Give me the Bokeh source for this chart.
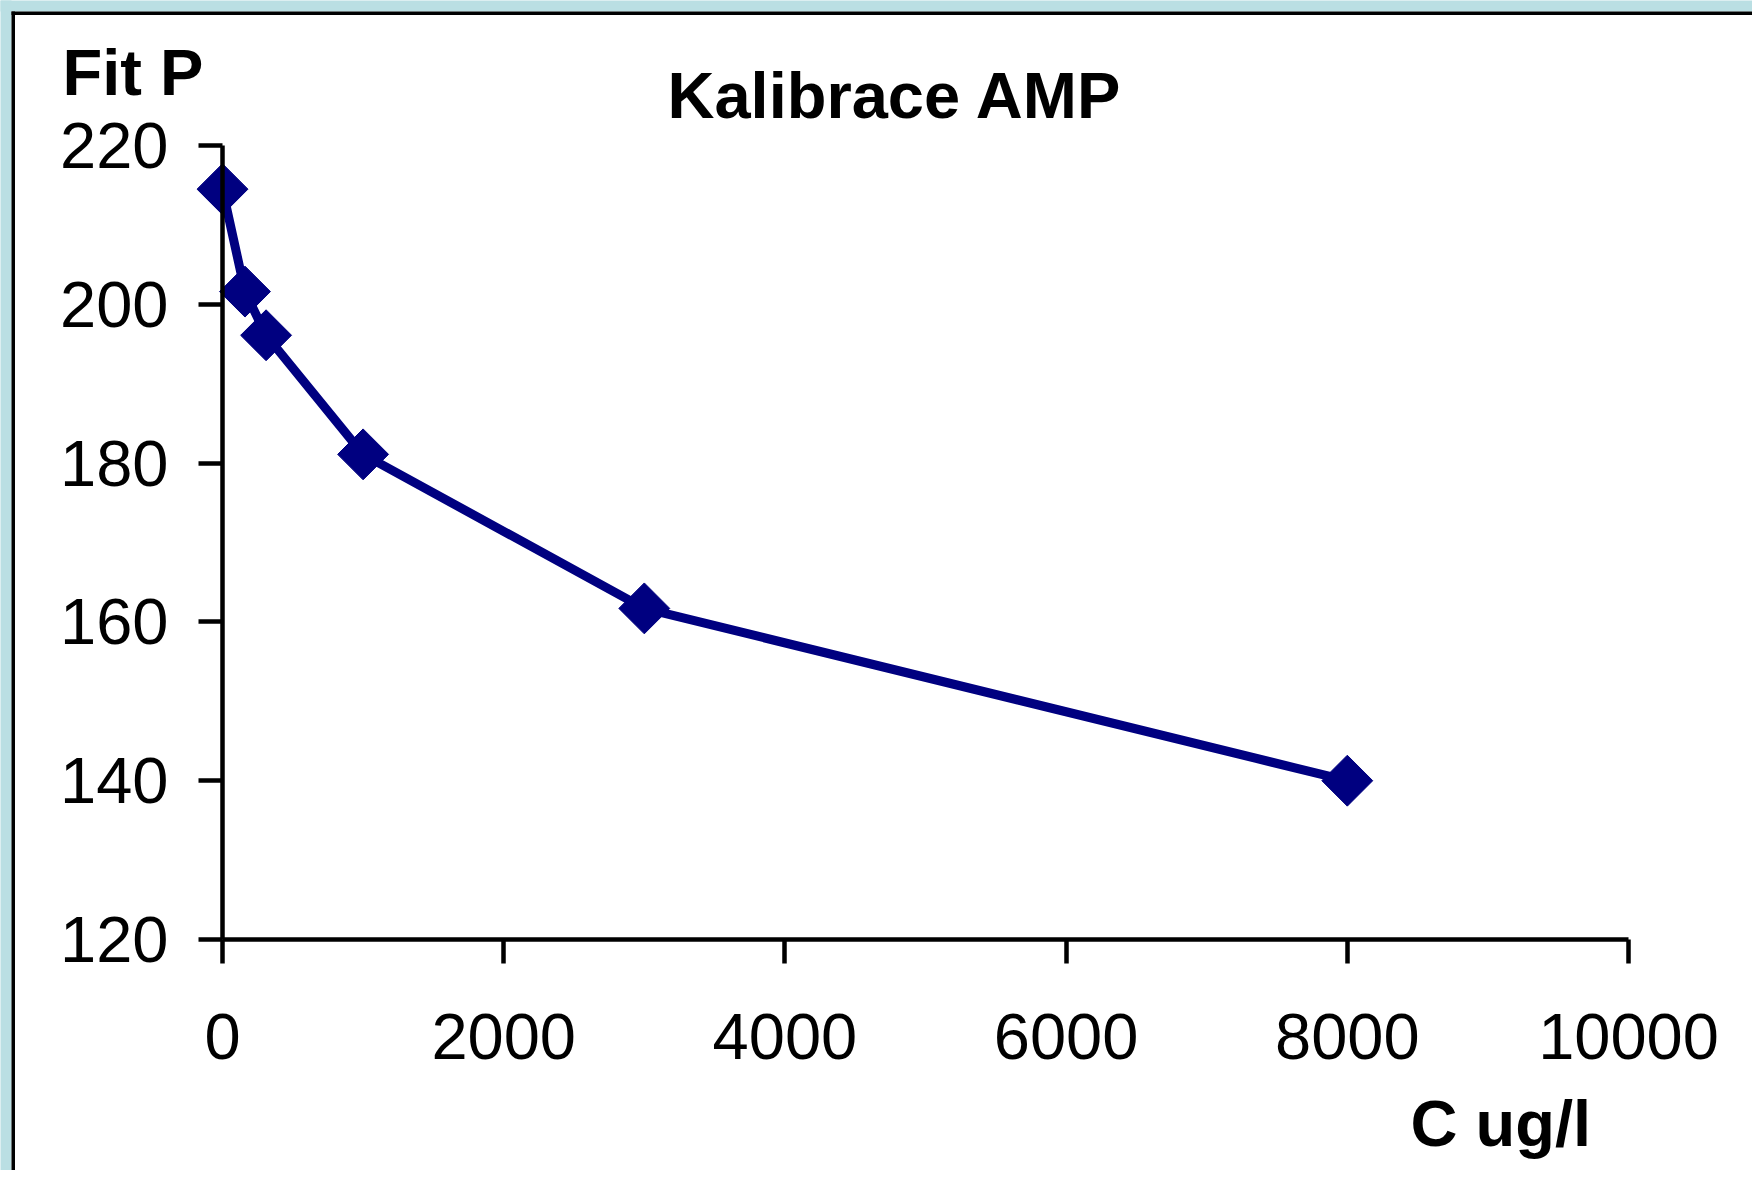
from bokeh.plotting import figure
from bokeh.models import Range1d, FixedTicker, Label
from bokeh.embed import file_html
from bokeh.resources import INLINE

# ---- data ----
conc_ugl = [0, 160, 310, 1000, 3000, 8000]
fit_p = [214.5, 201.6, 196.1, 181.1, 161.7, 140.0]
x_ticks = [0, 2000, 4000, 6000, 8000, 10000]
y_ticks = [120, 140, 160, 180, 200, 220]
title_text = "Kalibrace AMP"
y_title = "Fit P"
x_title = "C ug/l"

# ---- layout (pixels on the page) ----
W, H = 1752, 1170
X0_PX, X1_PX = 222.0, 1628.0      # where x = 0 and x = 10000 sit
YT_PX, YB_PX = 145.0, 939.0       # where y = 220 and y = 120 sit
XMIN, XMAX = x_ticks[0], x_ticks[-1]
YMIN, YMAX = y_ticks[0], y_ticks[-1]
kx = (XMAX - XMIN) / (X1_PX - X0_PX)
ky = (YMAX - YMIN) / (YB_PX - YT_PX)


def px2x(px):
    return XMIN + (px - X0_PX) * kx


def px2y(py):
    return YMIN + (YB_PX - py) * ky


FONT = "Liberation Sans"
NAVY = "#000080"
BG = "#BADFE3"
TXT_SHIFT = 24  # baseline correction for labels

p = figure(width=W, height=H, output_backend="svg", toolbar_location=None,
           x_range=Range1d(px2x(0), px2x(W)), y_range=Range1d(px2y(H), px2y(0)),
           min_border=0)
p.border_fill_color = "white"
p.background_fill_color = "white"
p.outline_line_color = None
p.xgrid.visible = False
p.ygrid.visible = False

# page frame: light blue strip and black border along top and left
p.quad(left=[px2x(-5), px2x(-5)], right=[px2x(W + 5), px2x(11)],
       top=[px2y(-5), px2y(-5)], bottom=[px2y(11), px2y(H + 5)],
       fill_color=BG, line_color=None, level="underlay")
p.quad(left=[px2x(11), px2x(11)], right=[px2x(W + 5), px2x(14.5)],
       top=[px2y(11), px2y(11)], bottom=[px2y(14.5), px2y(H + 5)],
       fill_color="black", line_color=None, level="underlay")

for ax in (p.xaxis, p.yaxis):
    ax.axis_line_color = "black"
    ax.axis_line_width = 4.5
    ax.major_tick_line_color = "black"
    ax.major_tick_line_width = 4.5
    ax.major_tick_in = 0
    ax.major_tick_out = 24
    ax.minor_tick_line_color = None
    ax.major_label_text_font = FONT
    ax.major_label_text_font_size = "65px"
    ax.major_label_text_color = "black"

p.xaxis.ticker = FixedTicker(ticks=x_ticks)
p.yaxis.ticker = FixedTicker(ticks=y_ticks)
p.xaxis.fixed_location = YMIN
p.yaxis.fixed_location = XMIN
p.xaxis.bounds = (XMIN, XMAX)
p.yaxis.bounds = (YMIN, YMAX)
p.xaxis.major_label_standoff = 50
p.yaxis.major_label_standoff = 30

p.line(conc_ugl, fit_p, line_color=NAVY, line_width=9)
p.scatter(conc_ugl, fit_p, marker="square", angle=0.785398, size=36,
          fill_color=NAVY, line_color=NAVY)

# text labels
p.add_layout(Label(x=px2x(667), y=px2y(119 - TXT_SHIFT), text=title_text,
                   text_font=FONT, text_font_size="65px", text_font_style="bold",
                   text_baseline="alphabetic", text_align="left", text_color="black"))
p.add_layout(Label(x=px2x(62), y=px2y(96 - TXT_SHIFT), text=y_title,
                   text_font=FONT, text_font_size="65px", text_font_style="bold",
                   text_baseline="alphabetic", text_align="left", text_color="black"))
p.add_layout(Label(x=px2x(1410), y=px2y(1147 - TXT_SHIFT), text=x_title,
                   text_font=FONT, text_font_size="65px", text_font_style="bold",
                   text_baseline="alphabetic", text_align="left", text_color="black"))

open("out.html", "w").write(file_html(p, INLINE))
